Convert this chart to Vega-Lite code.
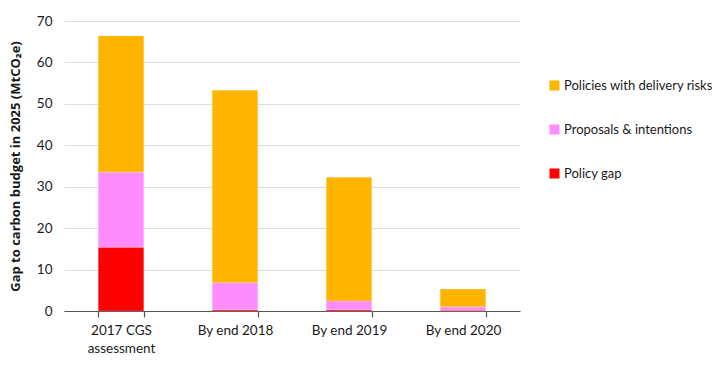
{
  "$schema": "https://vega.github.io/schema/vega-lite/v6.json",
  "autosize": {"type": "none"},
  "padding": {"left": 64, "top": 21, "right": 200, "bottom": 61},
  "width": 456,
  "height": 290,
  "background": "white",
  "config": {
    "font": "Lato",
    "view": {"stroke": null}
  },
  "data": {
    "values": [
      {"cat": "2017 CGS assessment", "type": "Policy gap", "rank": 1, "value": 15.4},
      {"cat": "2017 CGS assessment", "type": "Proposals & intentions", "rank": 2, "value": 18.1},
      {"cat": "2017 CGS assessment", "type": "Policies with delivery risks", "rank": 3, "value": 32.9},
      {"cat": "By end 2018", "type": "Policy gap", "rank": 1, "value": 0.3},
      {"cat": "By end 2018", "type": "Proposals & intentions", "rank": 2, "value": 6.5},
      {"cat": "By end 2018", "type": "Policies with delivery risks", "rank": 3, "value": 46.5},
      {"cat": "By end 2019", "type": "Policy gap", "rank": 1, "value": 0.3},
      {"cat": "By end 2019", "type": "Proposals & intentions", "rank": 2, "value": 2.1},
      {"cat": "By end 2019", "type": "Policies with delivery risks", "rank": 3, "value": 29.9},
      {"cat": "By end 2020", "type": "Policy gap", "rank": 1, "value": 0.2},
      {"cat": "By end 2020", "type": "Proposals & intentions", "rank": 2, "value": 0.8},
      {"cat": "By end 2020", "type": "Policies with delivery risks", "rank": 3, "value": 4.3}
    ]
  },
  "mark": {"type": "bar", "stroke": "#ffffff", "strokeOpacity": 0.4, "strokeWidth": 0.5},
  "encoding": {
    "x": {
      "field": "cat",
      "type": "nominal",
      "sort": null,
      "title": null,
      "scale": {"paddingInner": 0.6, "paddingOuter": 0.3},
      "axis": {
        "labelAngle": 0,
        "labelFontSize": 13.5,
        "labelColor": "#1a1a1a",
        "labelPadding": 6,
        "labelLineHeight": 18,
        "labelExpr": "datum.label == '2017 CGS assessment' ? ['2017 CGS', 'assessment'] : datum.label",
        "domainColor": "#555555",
        "domainWidth": 1.2,
        "tickColor": "#555555",
        "tickBand": "extent",
        "tickSize": 6,
        "tickWidth": 1.2
      }
    },
    "y": {
      "field": "value",
      "type": "quantitative",
      "aggregate": "sum",
      "stack": "zero",
      "title": "Gap to carbon budget in 2025 (MtCO₂e)",
      "scale": {"domain": [0, 70], "nice": false},
      "axis": {
        "values": [0, 10, 20, 30, 40, 50, 60, 70],
        "domain": false,
        "ticks": false,
        "labelFontSize": 13.5,
        "labelColor": "#1a1a1a",
        "labelPadding": 12,
        "gridColor": "#dddddd",
        "gridWidth": 1.2,
        "titleFont": "Open Sans",
        "titleFontSize": 13,
        "titleFontWeight": "bold",
        "titleColor": "#1a1a1a",
        "titlePadding": 14
      }
    },
    "color": {
      "field": "type",
      "type": "nominal",
      "scale": {
        "domain": ["Policies with delivery risks", "Proposals & intentions", "Policy gap"],
        "range": ["#FFB500", "#FF8CFF", "#FF0000"]
      },
      "legend": {
        "title": null,
        "orient": "none",
        "legendX": 484,
        "legendY": 58,
        "symbolType": "square",
        "symbolSize": 100,
        "symbolStrokeWidth": 0,
        "labelFontSize": 13,
        "labelColor": "#1a1a1a",
        "labelOffset": 3,
        "labelLimit": 200,
        "rowPadding": 30
      }
    },
    "order": {"field": "rank", "type": "quantitative", "sort": "ascending"}
  }
}
